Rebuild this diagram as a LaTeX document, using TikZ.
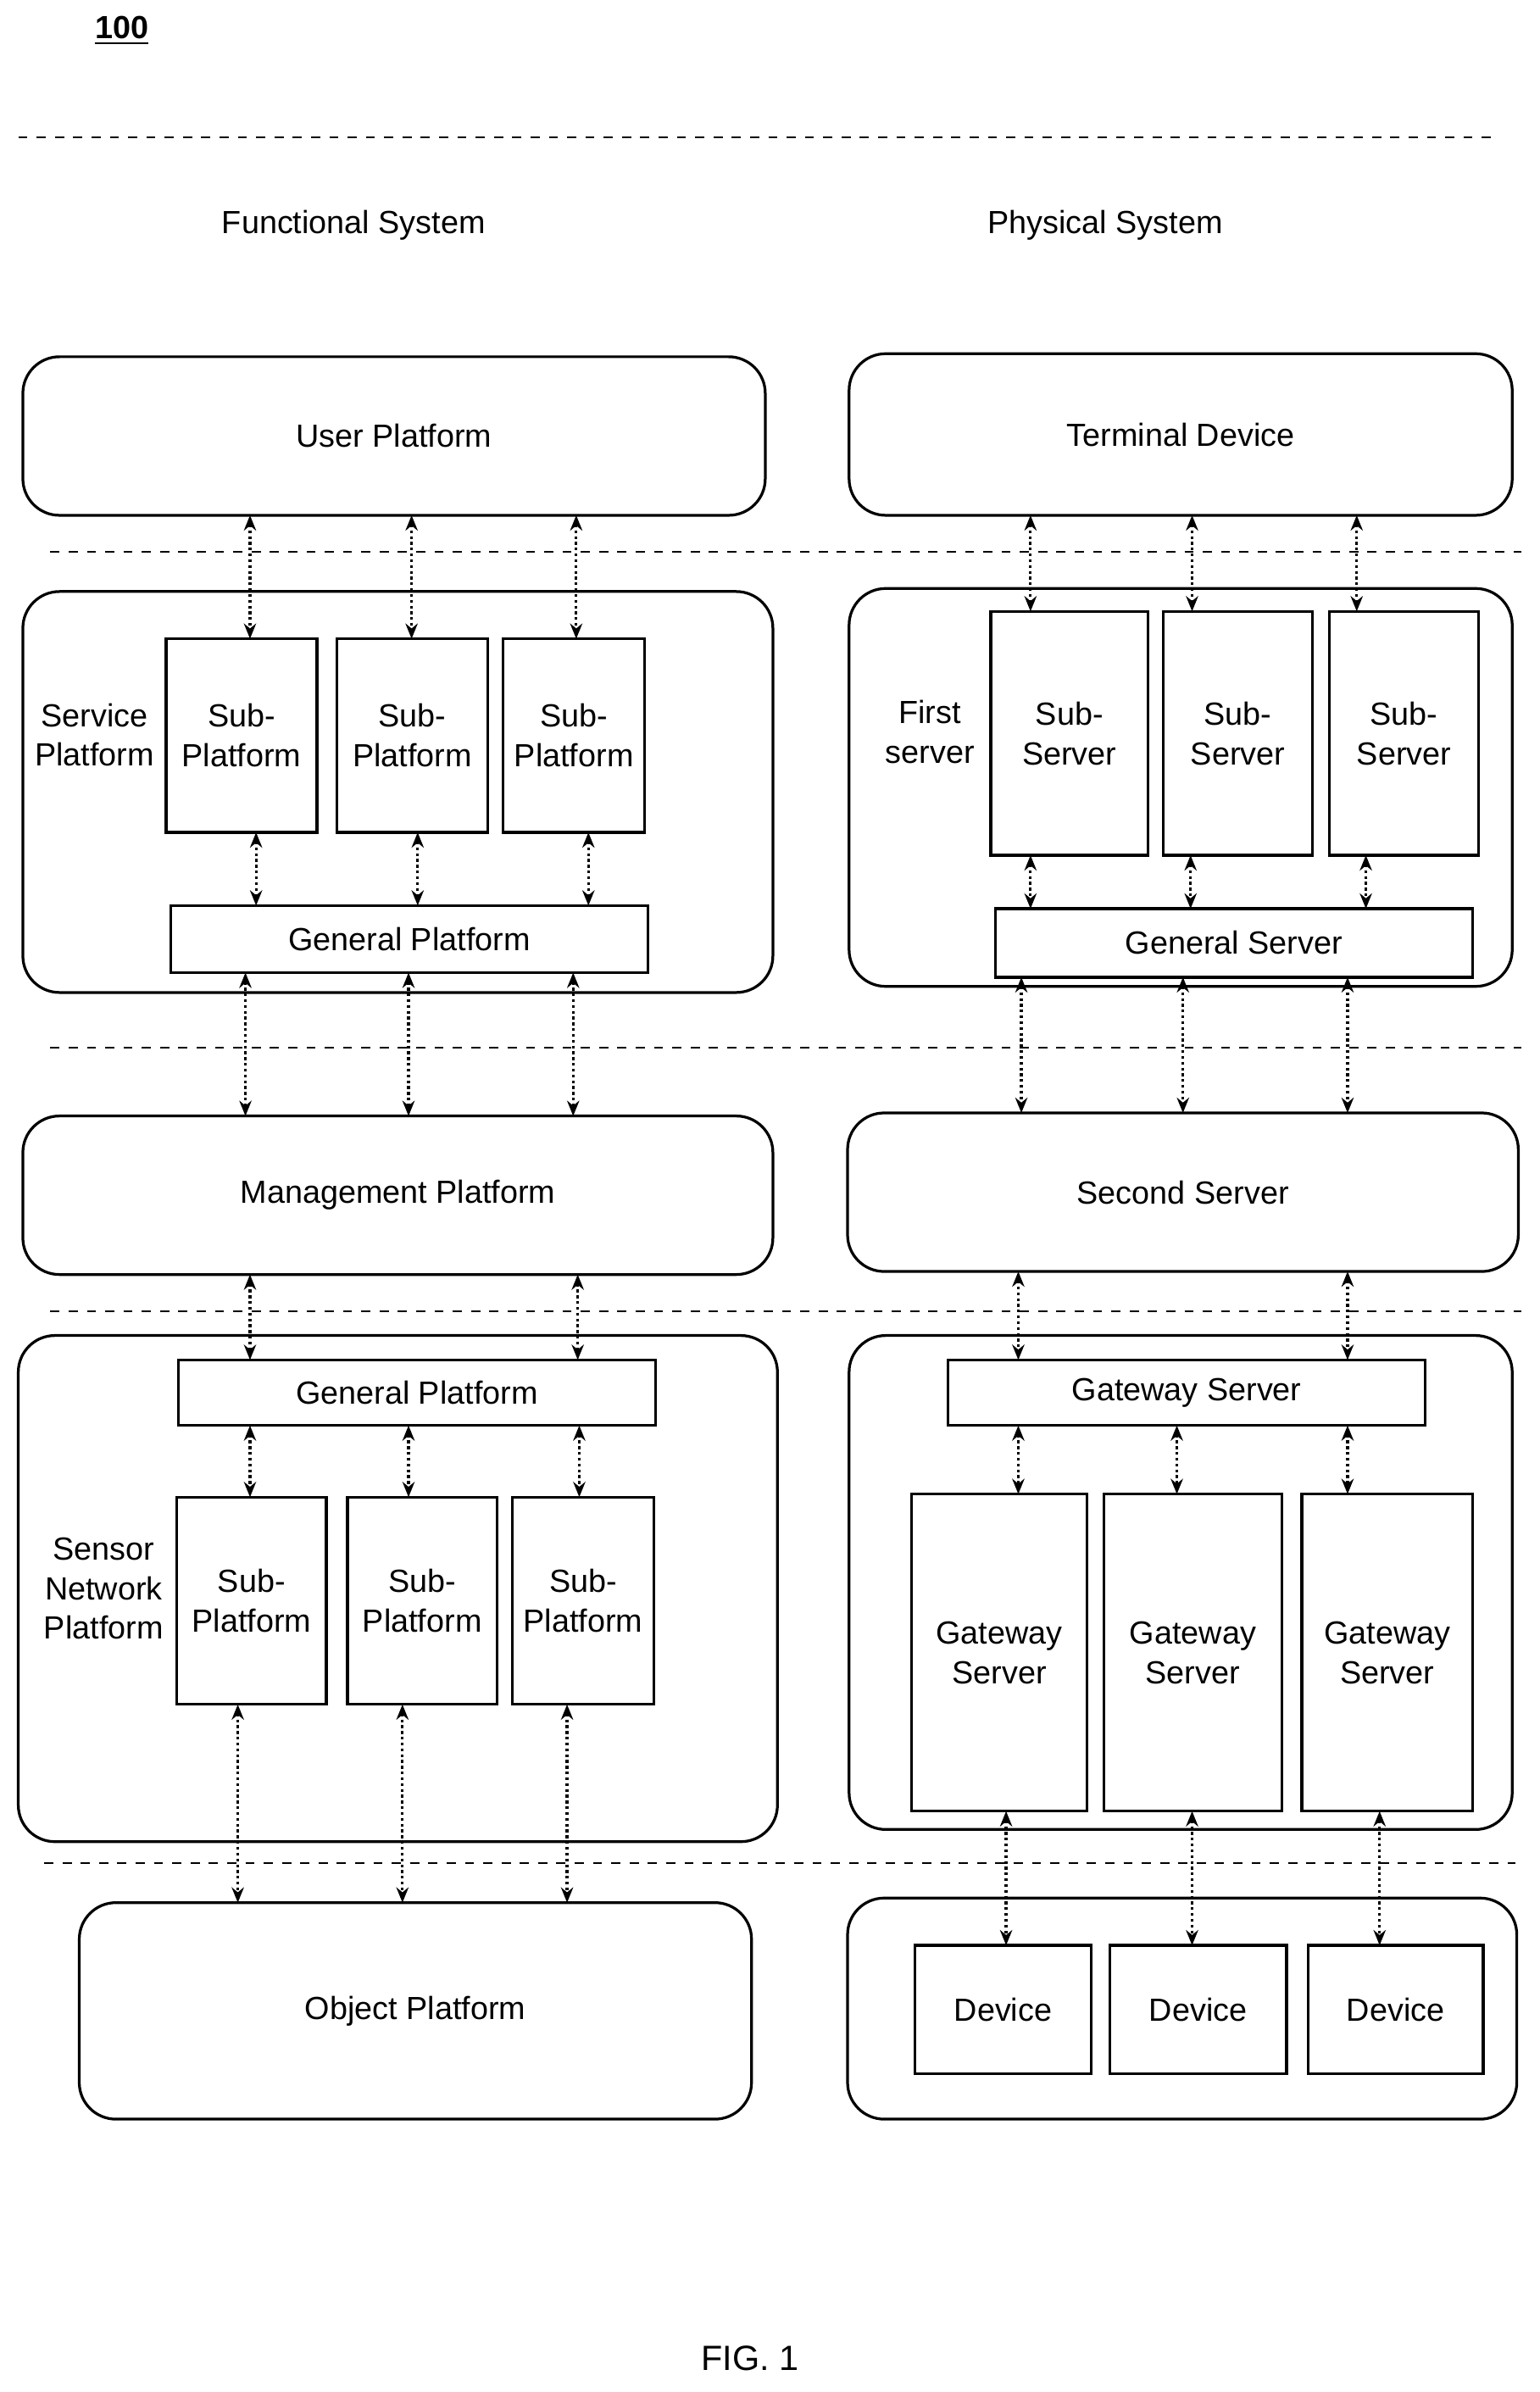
\documentclass[tikz,border=0pt]{standalone}
\usepackage{fontspec}
\setmainfont{Liberation Sans}
\usetikzlibrary{arrows.meta}
\begin{document}
\begin{tikzpicture}[x=0.5pt,y=-0.5pt,
  font=\fontsize{10.5}{13}\selectfont,
  rbox/.style={draw, line width=0.9pt, rounded corners=12pt, inner sep=0pt, outer sep=0pt, align=center},
  sbox/.style={draw, line width=0.9pt, inner sep=0pt, outer sep=0pt, align=center},
  lbl/.style={align=center, inner sep=0pt},
  arr/.style={{Stealth[length=5pt,width=4pt]}-{Stealth[length=5pt,width=4pt]}, line width=0.9pt, densely dotted},
  dsh/.style={dashed, line width=0.5pt}]
\newcommand\bx[7]{\node[#6, minimum width={(#4-#2)*0.5pt}, minimum height={(#5-#3)*0.5pt}] (#1) at ({(#2+#4)/2},{(#3+#5)/2}) {#7};}
\useasboundingbox (0,0) rectangle (1010,1569);
\node[lbl, font=\fontsize{10.5}{13}\selectfont\bfseries] (num) at (80,20) {\underline{100}};
\coordinate (d1a) at (12,90); \coordinate (d1b) at (978,90);
\draw[dsh] (d1a) -- (d1b);
\node[lbl] (fs) at (232,148) {Functional System};
\node[lbl] (ps) at (725,148) {Physical System};
% row 1
\bx{up}{15}{234}{502}{338}{rbox}{User Platform}
\bx{td}{557}{232}{992}{338}{rbox}{Terminal Device}
\coordinate (d2a) at (33,362); \coordinate (d2b) at (998,362);
\draw[dsh] (d2a) -- (d2b);
% service platform
\bx{sp}{15}{388}{507}{651}{rbox}{}
\node[lbl] (spl) at (62,482) {Service\\Platform};
\bx{sp1}{109}{419}{208}{546}{sbox}{Sub-\\Platform}
\bx{sp2}{221}{419}{320}{546}{sbox}{Sub-\\Platform}
\bx{sp3}{330}{419}{423}{546}{sbox}{Sub-\\Platform}
\bx{gp1}{112}{594}{425}{638}{sbox}{General Platform}
\draw[arr] (up.south -| 164,0) -- (sp1.north -| 164,0);
\draw[arr] (up.south -| 270,0) -- (sp2.north -| 270,0);
\draw[arr] (up.south -| 378,0) -- (sp3.north -| 378,0);
\draw[arr] (sp1.south -| 168,0) -- (gp1.north -| 168,0);
\draw[arr] (sp2.south -| 274,0) -- (gp1.north -| 274,0);
\draw[arr] (sp3.south -| 386,0) -- (gp1.north -| 386,0);
% first server
\bx{fs1}{557}{386}{992}{647}{rbox}{}
\node[lbl] (fsl) at (610,480) {First\\server};
\bx{ss1}{650}{401}{753}{561}{sbox}{Sub-\\Server}
\bx{ss2}{763}{401}{861}{561}{sbox}{Sub-\\Server}
\bx{ss3}{872}{401}{970}{561}{sbox}{Sub-\\Server}
\bx{gs}{653}{596}{966}{641}{sbox}{General Server}
\draw[arr] (td.south -| 676,0) -- (ss1.north -| 676,0);
\draw[arr] (td.south -| 782,0) -- (ss2.north -| 782,0);
\draw[arr] (td.south -| 890,0) -- (ss3.north -| 890,0);
\draw[arr] (ss1.south -| 676,0) -- (gs.north -| 676,0);
\draw[arr] (ss2.south -| 781,0) -- (gs.north -| 781,0);
\draw[arr] (ss3.south -| 896,0) -- (gs.north -| 896,0);
\coordinate (d3a) at (33,687); \coordinate (d3b) at (998,687);
\draw[dsh] (d3a) -- (d3b);
% management
\bx{mp}{15}{732}{507}{836}{rbox}{Management Platform}
\bx{sv2}{556}{730}{996}{834}{rbox}{Second Server}
\draw[arr] (gp1.south -| 161,0) -- (mp.north -| 161,0);
\draw[arr] (gp1.south -| 268,0) -- (mp.north -| 268,0);
\draw[arr] (gp1.south -| 376,0) -- (mp.north -| 376,0);
\draw[arr] (gs.south -| 670,0) -- (sv2.north -| 670,0);
\draw[arr] (gs.south -| 776,0) -- (sv2.north -| 776,0);
\draw[arr] (gs.south -| 884,0) -- (sv2.north -| 884,0);
\coordinate (d4a) at (33,860); \coordinate (d4b) at (998,860);
\draw[dsh] (d4a) -- (d4b);
% sensor network
\bx{sn}{12}{876}{510}{1208}{rbox}{}
\node[lbl] (snl) at (68,1042) {Sensor\\Network\\Platform};
\bx{gp2}{117}{892}{430}{935}{sbox}{General Platform}
\bx{sn1}{116}{982}{214}{1118}{sbox}{Sub-\\Platform}
\bx{sn2}{228}{982}{326}{1118}{sbox}{Sub-\\Platform}
\bx{sn3}{336}{982}{429}{1118}{sbox}{Sub-\\Platform}
\draw[arr] (mp.south -| 164,0) -- (gp2.north -| 164,0);
\draw[arr] (mp.south -| 379,0) -- (gp2.north -| 379,0);
\draw[arr] (gp2.south -| 164,0) -- (sn1.north -| 164,0);
\draw[arr] (gp2.south -| 268,0) -- (sn2.north -| 268,0);
\draw[arr] (gp2.south -| 380,0) -- (sn3.north -| 380,0);
% gateway
\bx{gw}{557}{876}{992}{1200}{rbox}{}
\bx{gws}{622}{892}{935}{935}{sbox}{Gateway Server}
\bx{g1}{598}{980}{713}{1188}{sbox}{Gateway\\Server}
\bx{g2}{724}{980}{841}{1188}{sbox}{Gateway\\Server}
\bx{g3}{854}{980}{966}{1188}{sbox}{Gateway\\Server}
\draw[arr] (sv2.south -| 668,0) -- (gws.north -| 668,0);
\draw[arr] (sv2.south -| 884,0) -- (gws.north -| 884,0);
\draw[arr] (gws.south -| 668,0) -- (g1.north -| 668,0);
\draw[arr] (gws.south -| 772,0) -- (g2.north -| 772,0);
\draw[arr] (gws.south -| 884,0) -- (g3.north -| 884,0);
\coordinate (d5a) at (29,1222); \coordinate (d5b) at (994,1222);
\draw[dsh] (d5a) -- (d5b);
% bottom
\bx{op}{52}{1248}{493}{1390}{rbox}{Object Platform}
\bx{dv}{556}{1245}{995}{1390}{rbox}{}
\bx{dv1}{600}{1276}{716}{1360}{sbox}{Device}
\bx{dv2}{728}{1276}{844}{1360}{sbox}{Device}
\bx{dv3}{858}{1276}{973}{1360}{sbox}{Device}
\draw[arr] (sn1.south -| 156,0) -- (op.north -| 156,0);
\draw[arr] (sn2.south -| 264,0) -- (op.north -| 264,0);
\draw[arr] (sn3.south -| 372,0) -- (op.north -| 372,0);
\draw[arr] (g1.south -| 660,0) -- (dv1.north -| 660,0);
\draw[arr] (g2.south -| 782,0) -- (dv2.north -| 782,0);
\draw[arr] (g3.south -| 905,0) -- (dv3.north -| 905,0);
\node[lbl, font=\fontsize{11.5}{14}\selectfont] (fig) at (492,1547) {FIG. 1};
\end{tikzpicture}
\end{document}
